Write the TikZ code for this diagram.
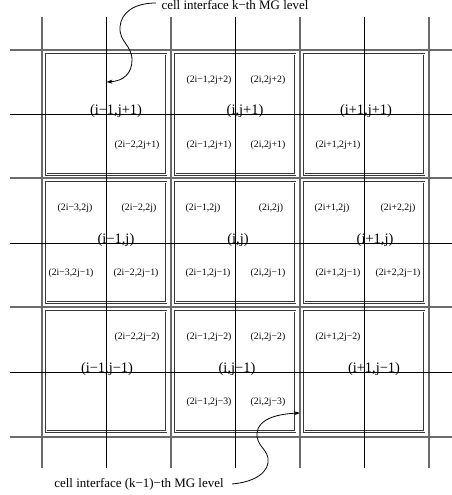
\documentclass[tikz,border=0pt]{standalone}
\usepackage{fontspec}
\setmainfont{Liberation Serif}
\usetikzlibrary{arrows.meta}
\begin{document}
\begin{tikzpicture}[x=1bp,y=-1bp,
  coarse/.style={draw=black!58, line width=1.8bp},
  fine/.style={draw=black, line width=0.9bp},
  cellbox/.style={draw=black!78, double=white, line width=0.7bp, double distance=1.1bp},
  big/.style={inner sep=0pt, font=\fontsize{14.5}{16}\selectfont},
  small/.style={inner sep=0pt, font=\fontsize{9.8}{11}\selectfont},
  note/.style={inner sep=0pt, anchor=base, font=\fontsize{13}{15}\selectfont},
  pointer/.style={draw=black, line width=0.8bp, -{Stealth[length=6bp,width=4bp]}}]
\path[use as bounding box] (0,0) rectangle (452,495);

% boxes inside the coarse cells
\foreach \cx in {42,171,300}
  \foreach \cy in {50,178,307}
    \draw[cellbox] (\cx+4.2,\cy+4.2) rectangle (\cx+124.2,\cy+124.6);

% coarse (gray) grid
\foreach \x in {42,171,300,429}
  \draw[coarse] (\x,17) -- (\x,468);
\foreach \y in {50,178,307,437}
  \draw[coarse] (9.5,\y) -- (452,\y);

% fine (black) grid
\foreach \x in {106.5,235.5,364.5}
  \draw[fine] (\x,17) -- (\x,468);
\foreach \y in {114.2,243,372.2}
  \draw[fine] (9.5,\y) -- (452,\y);

% big labels
\node[big] (c11) at (116,111) {(i−1,j+1)};
\node[big] (c21) at (245,111) {(i,j+1)};
\node[big] (c31) at (366,111) {(i+1,j+1)};
\node[big] (c12) at (116,240) {(i−1,j)};
\node[big] (c22) at (238,240) {(i,j)};
\node[big] (c32) at (375,240) {(i+1,j)};
\node[big] (c13) at (107,369) {(i−1,j−1)};
\node[big] (c23) at (237,369) {(i,j−1)};
\node[big] (c33) at (374,369) {(i+1,j−1)};

% small labels, top row
\node[small] (s1) at (209,80) {(2i−1,2j+2)};
\node[small] (s2) at (268,80) {(2i,2j+2)};
\node[small] (s3) at (137,145) {(2i−2,2j+1)};
\node[small] (s4) at (209,145) {(2i−1,2j+1)};
\node[small] (s5) at (268,145) {(2i,2j+1)};
\node[small] (s6) at (338,145) {(2i+1,2j+1)};
% middle row
\node[small] (m1) at (75,208) {(2i−3,2j)};
\node[small] (m2) at (139,208) {(2i−2,2j)};
\node[small] (m3) at (203,208) {(2i−1,2j)};
\node[small] (m4) at (271,208) {(2i,2j)};
\node[small] (m5) at (332,208) {(2i+1,2j)};
\node[small] (m6) at (398,208) {(2i+2,2j)};
\node[small] (m7) at (71,273) {(2i−3,2j−1)};
\node[small] (m8) at (136,273) {(2i−2,2j−1)};
\node[small] (m9) at (208,273) {(2i−1,2j−1)};
\node[small] (m10) at (268,273) {(2i,2j−1)};
\node[small] (m11) at (338,273) {(2i+1,2j−1)};
\node[small] (m12) at (398,273) {(2i+2,2j−1)};
% bottom row
\node[small] (b1) at (137,337) {(2i−2,2j−2)};
\node[small] (b2) at (209,337) {(2i−1,2j−2)};
\node[small] (b3) at (268,337) {(2i,2j−2)};
\node[small] (b4) at (338,337) {(2i+1,2j−2)};
\node[small] (b5) at (209,402) {(2i−1,2j−3)};
\node[small] (b6) at (268,402) {(2i,2j−3)};

% annotations
\node[note] (topnote) at (235,10) {cell interface k−th MG level};
\node[note] (botnote) at (139,487) {cell interface (k−1)−th MG level};
\coordinate (tstart) at (156,3);
\coordinate (ttip) at (106.5,82);
\coordinate (bstart) at (232,484);
\coordinate (btip) at (300,413);
\draw[pointer] (tstart) .. controls (135,3) and (121,12) .. (120,27)
  .. controls (119,42) and (132,45) .. (132,60)
  .. controls (132,73) and (124,81) .. (ttip);
\draw[pointer] (bstart) .. controls (255,482) and (270,472) .. (268,458)
  .. controls (266,448) and (256,445) .. (257,433)
  .. controls (258,420) and (275,414) .. (btip);
\end{tikzpicture}
\end{document}
